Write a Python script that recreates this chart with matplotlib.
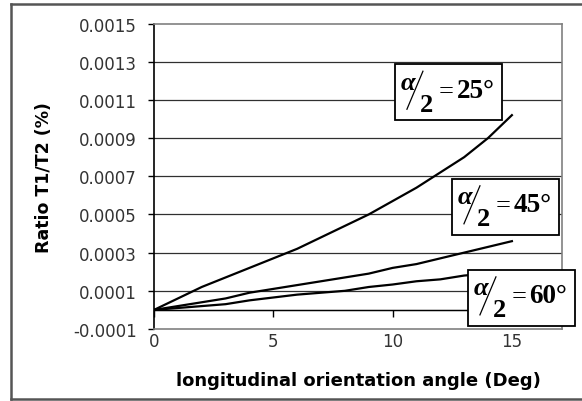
import numpy as np
import matplotlib
matplotlib.use("Agg")
import matplotlib.pyplot as plt
from matplotlib.patches import Rectangle
from matplotlib.lines import Line2D
from matplotlib.transforms import IdentityTransform

# data
angle = [0, 1, 2, 3, 4, 5, 6, 7, 8, 9, 10, 11, 12, 13, 14, 15]
r25 = [0, 0.00006, 0.00012, 0.00017, 0.00022, 0.00027, 0.00032, 0.00038,
       0.00044, 0.0005, 0.00057, 0.00064, 0.00072, 0.0008, 0.0009, 0.00102]
r45 = [0, 0.00002, 0.00004, 0.00006, 0.00009, 0.00011, 0.00013, 0.00015,
       0.00017, 0.00019, 0.00022, 0.00024, 0.00027, 0.0003, 0.00033, 0.00036]
r60 = [0, 0.00001, 0.00002, 0.00003, 0.00005, 0.000065, 0.00008, 0.00009,
       0.0001, 0.00012, 0.000133, 0.00015, 0.00016, 0.00018, 0.00019, 0.0002]
labels = ["25", "45", "60"]
label_pos = [(12.34, 0.00114), (14.73, 0.00054), (15.4, 0.000063)]

yticks = [-0.0001, 0.0001, 0.0003, 0.0005, 0.0007, 0.0009, 0.0011, 0.0013, 0.0015]
xticks = [0, 5, 10, 15]

plt.rcParams['font.family'] = ['DejaVu Sans']

fig = plt.figure(figsize=(5.82, 4.02), dpi=100)
ax = fig.add_axes([154/582, 1-330/402, (562-154)/582, (330-24.5)/402])

ax.set_xlim(0, 17.1)
ax.set_ylim(-0.0001, 0.0015)

for yy in yticks[1:-1]:
    ax.axhline(yy, color='#303030', lw=0.9, zorder=1)
ax.axhline(0, color='black', lw=1.0, zorder=2)

for s, c in [('top', '#808080'), ('right', '#808080'), ('bottom', '#808080'), ('left', 'black')]:
    ax.spines[s].set_color(c)
    ax.spines[s].set_linewidth(1.2)

ax.set_yticks(yticks)
ax.set_yticklabels(["%.4f" % v for v in yticks])
ax.tick_params(axis='y', direction='out', length=4.5, width=1, color='black',
               labelsize=12, labelcolor='#333333', pad=8)
ax.set_xticks(xticks)
ax.set_xticklabels([str(v) for v in xticks])
ax.tick_params(axis='x', length=0, labelsize=12, labelcolor='#333333', pad=2)

sec = ax.secondary_xaxis(0.0625)
sec.set_xticks(xticks)
sec.tick_params(axis='x', direction='out', length=5, width=1, labelbottom=False)
sec.spines['bottom'].set_color('black')

ax.plot(angle, r25, color='black', lw=1.6, zorder=3)
ax.plot(angle, r45, color='black', lw=1.6, zorder=3)
ax.plot(angle, r60, color='black', lw=1.6, zorder=3)

ax.set_ylabel("Ratio T1/T2 (%)", fontsize=12.5, fontweight='bold', labelpad=14)
ax.set_xlabel("longitudinal orientation angle (Deg)", fontsize=13,
              fontweight='bold', labelpad=15)

# angle labels, built from pieces in pixel offsets around an anchor
fig.canvas.draw()
ident = IdentityTransform()
serif = 'Liberation Serif'
for lab, (cx, cy) in zip(labels, label_pos):
    px, py = ax.transData.transform((cx, cy))
    fig.add_artist(Rectangle((px - 53.5, py - 28), 107, 56, transform=ident,
                             facecolor='white', edgecolor='black', lw=1.3, zorder=5))
    fig.add_artist(Line2D([px - 41.5, px - 25.5], [py - 17, py + 21], transform=ident,
                          color='black', lw=0.9, zorder=6))
    fig.text(px - 40, py + 10, "\u03b1", transform=ident, family=serif, style='italic',
             fontweight='bold', fontsize=19, ha='center', va='center', zorder=7)
    fig.text(px - 21.5, py - 12, "2", transform=ident, family=serif, fontweight='bold',
             fontsize=19, ha='center', va='center', zorder=7)
    fig.text(px - 10, py + 1.5, "=", transform=ident, family=serif,
             fontsize=19, ha='left', va='center', zorder=7)
    fig.text(px + 8, py + 2, lab + "\u00b0", transform=ident, family=serif,
             fontweight='bold', fontsize=19.5, ha='left', va='center', zorder=7)

# outer chart frame: left, top and bottom sides only
fig.add_artist(Line2D([11/582, 11/582], [1 - 5/402, 1 - 400/402],
                      transform=fig.transFigure, color='#555555', lw=1.8))
fig.add_artist(Line2D([11/582, 1.0], [1 - 5/402, 1 - 5/402],
                      transform=fig.transFigure, color='#555555', lw=1.8))
fig.add_artist(Line2D([11/582, 1.0], [1 - 400/402, 1 - 400/402],
                      transform=fig.transFigure, color='#555555', lw=1.8))

fig.savefig("out.png", dpi=100)
